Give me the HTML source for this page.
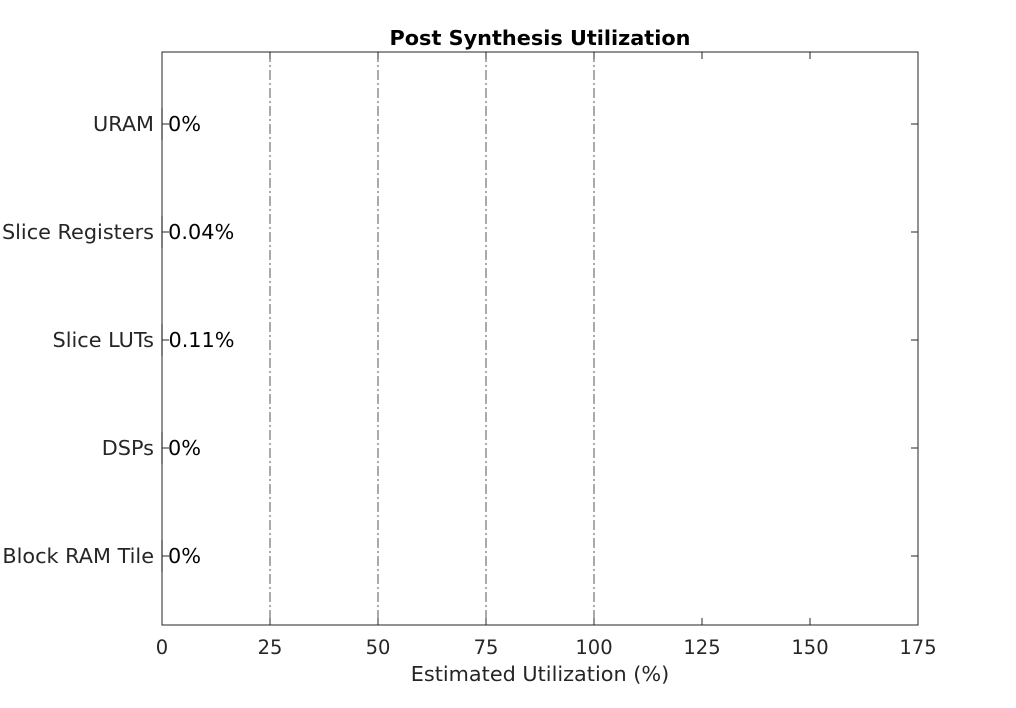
<!DOCTYPE html>
<html><head><meta charset="utf-8"><style>
body{margin:0;background:#fff;}
svg text{font-family:"DejaVu Sans","Liberation Sans",sans-serif;}
</style></head><body>
<svg id="chart" width="1016" height="703" xmlns="http://www.w3.org/2000/svg"></svg>
<script>
const categories = ["URAM","Slice Registers","Slice LUTs","DSPs","Block RAM Tile"];
const values = [0, 0.04, 0.11, 0, 0];
const valueLabels = ["0%","0.04%","0.11%","0%","0%"];
const xTicks = [0,25,50,75,100,125,150,175];
const gridLines = [25,50,75,100];

const L=162,R=918,T=52,B=625;
const xs=v=>L+(v-0)/(175-0)*(R-L);
const yc=i=>124+i*108;
const svg=document.getElementById('chart');
const NS='http://www.w3.org/2000/svg';
function mk(tag,attrs,parent){const e=document.createElementNS(NS,tag);for(const k in attrs)e.setAttribute(k,attrs[k]);(parent||svg).appendChild(e);return e;}

let t=mk('text',{x:540,y:45,'text-anchor':'middle','font-size':'20.8','font-weight':'bold',fill:'#000'});
t.textContent='Post Synthesis Utilization';



gridLines.forEach(g=>{
  const l=mk('line',{x1:xs(g),x2:xs(g),y1:T,y2:B,stroke:'#555','stroke-width':1,'stroke-dasharray':'10 3 2 3'});
  
  
});

categories.forEach((c,i)=>{
  const y=yc(i);
  const w=Math.max(xs(values[i])-L,1.2);
  const b=mk('rect',{x:L-0.6,y:y-16,width:w,height:32,fill:'#333'});
  
  
  const lab=mk('text',{x:xs(values[i])+6,y:y+7,'font-size':'20.8',fill:'#000'});
  lab.textContent=valueLabels[i];
  
  
  const cl=mk('text',{x:L-8,y:y+7,'text-anchor':'end','font-size':'20.8',fill:'#262626'});
  cl.textContent=c;
  
  
  const tk1=mk('line',{x1:L,x2:L+7,y1:y,y2:y,stroke:'#262626'});
  
  
  const tk2=mk('line',{x1:R,x2:R-7,y1:y,y2:y,stroke:'#262626'});
  
  
});

const box=mk('rect',{x:L,y:T,width:R-L,height:B-T,fill:'none',stroke:'#262626','stroke-width':1});



xTicks.forEach(v=>{
  const x=xs(v);
  const a=mk('line',{x1:x,x2:x,y1:B,y2:B-7,stroke:'#262626'});
  
  
  const b2=mk('line',{x1:x,x2:x,y1:T,y2:T+7,stroke:'#262626'});
  
  
  const tl=mk('text',{x:x,y:654,'text-anchor':'middle','font-size':'19.5',fill:'#262626'});
  tl.textContent=v;
  
  
});

const xt=mk('text',{x:540,y:681,'text-anchor':'middle','font-size':'20.8',fill:'#262626'});
xt.textContent='Estimated Utilization (%)';


</script>
</body></html>
